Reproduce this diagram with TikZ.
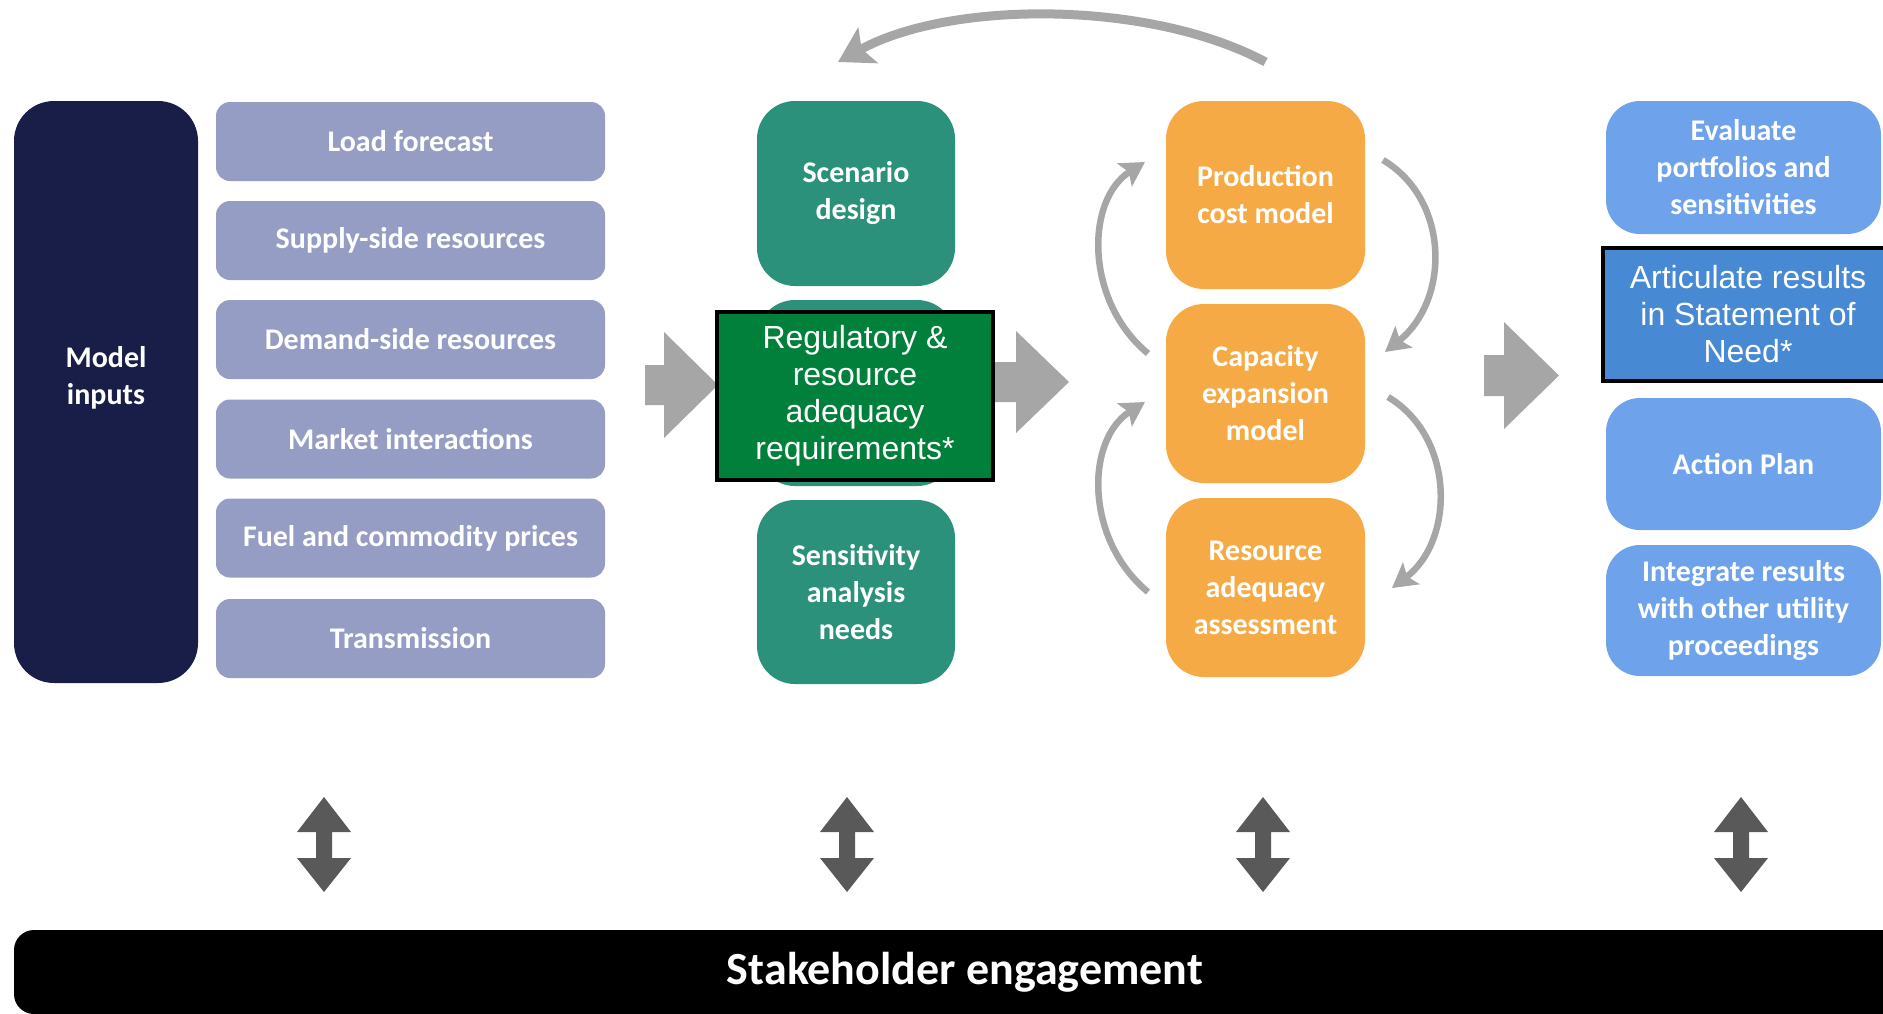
\documentclass[tikz,border=0pt]{standalone}
\usepackage{fontspec}
\newfontfamily\carlito{Carlito}
\newfontfamily\arialf{Liberation Sans}
\usetikzlibrary{arrows.meta}
\definecolor{navy}{RGB}{24,30,72}
\definecolor{lav}{RGB}{150,157,196}
\definecolor{tealg}{RGB}{43,145,122}
\definecolor{dgreen}{RGB}{0,128,58}
\definecolor{orng}{RGB}{246,170,70}
\definecolor{lblue}{RGB}{110,163,235}
\definecolor{mblue}{RGB}{72,137,212}
\definecolor{garr}{RGB}{166,166,166}
\definecolor{darr}{RGB}{89,89,89}
\begin{document}
\begin{tikzpicture}[x=1pt,y=-1pt,
  every node/.style={inner sep=0pt,outer sep=0pt},
  cbox/.style={rounded corners=#1,text=white,align=center,font=\carlito\bfseries\fontsize{30}{37}\selectfont},
  lavbox/.style={cbox=14pt,fill=lav,minimum width=389pt,minimum height=79pt},
  tealbox/.style={cbox=38pt,fill=tealg,minimum width=198pt},
  orbox/.style={cbox=38pt,fill=orng,minimum width=199pt},
  bluebox/.style={cbox=34pt,fill=lblue,minimum width=275pt},
  overbox/.style={draw=black,line width=4pt,text=white,align=center,font=\arialf\fontsize{32}{37}\selectfont},
  blockarr/.style={fill=garr},
  loopar/.style={draw=garr,line width=6.5pt,-{Stealth[length=24pt,width=27pt,inset=5pt]}},
  toparr/.style={draw=garr,line width=9pt,-{Stealth[length=34pt,width=40pt,inset=7pt]}},
  dblarr/.pic={\fill[darr] (0,-47.5) -- (27,-12.5) -- (8,-12.5) -- (8,13.5) -- (27,13.5) -- (0,47.5) -- (-27,13.5) -- (-8,13.5) -- (-8,-12.5) -- (-27,-12.5) -- cycle;}
]
\useasboundingbox (0,0) rectangle (1883,1013);
\clip (0,0) rectangle (1883,1013);
\fill[white] (0,0) rectangle (1883,1013);

% Model inputs
\node[cbox=40pt,fill=navy,minimum width=184pt,minimum height=582pt] (mi) at (106,392) {};
\node[cbox=0pt] (mitext) at (106,378) {Model\\inputs};

% input boxes
\node[lavbox] (load) at (410.5,141.5) {Load forecast};
\node[lavbox] (supply) at (410.5,240.5) {Supply-side resources};
\node[lavbox] (demand) at (410.5,339.5) {Demand-side resources};
\node[lavbox] (market) at (410.5,439) {Market interactions};
\node[lavbox] (fuel) at (410.5,538) {Fuel and commodity prices};
\node[lavbox] (trans) at (410.5,638.5) {Transmission};

% block arrow 1
\fill[blockarr] (645,365) -- (664,365) -- (664,332) -- (718,385) -- (664,438) -- (664,405) -- (645,405) -- cycle;

% teal column
\node[tealbox,minimum height=185pt] (scen) at (856,193.5) {Scenario\\design};
\node[tealbox,minimum height=186pt] (mid) at (856,393) {};
\node[tealbox,minimum height=184pt] (sens) at (856,592) {Sensitivity\\analysis\\needs};
\node[overbox,fill=dgreen,minimum width=276pt,minimum height=168pt] (reg) at (855,396) {Regulatory \&\\resource\\adequacy\\requirements*};

% block arrow 2
\fill[blockarr] (995,362) -- (1016,362) -- (1016,331) -- (1069,382) -- (1016,433) -- (1016,402) -- (995,402) -- cycle;

% orange column
\node[orbox,minimum height=188pt] (prod) at (1265.5,195) {Production\\cost model};
\node[orbox,minimum height=179pt] (cap) at (1265.5,393.5) {Capacity\\expansion\\model};
\node[orbox,minimum height=179pt] (res) at (1265.5,587.5) {Resource\\adequacy\\assessment};

% loop arrows
\draw[loopar] ([shift={(-18,-40)}]cap.west) .. controls +(-63,-52) and +(-60,38) .. ([shift={(-21,-33)}]prod.west);
\draw[loopar] ([shift={(-18,4.5)}]res.west) .. controls +(-63,-52) and +(-60,38) .. ([shift={(-21,8.5)}]cap.west);
\draw[loopar] ([shift={(18,-35)}]prod.east) .. controls +(67,40) and +(65,-52) .. ([shift={(20,-41.5)}]cap.east);
\draw[loopar] ([shift={(23,3.5)}]cap.east) .. controls +(67,40) and +(63,-48) .. ([shift={(27,0.5)}]res.east);

% top arc
\draw[toparr] ([shift={(0,-39)}]prod.north) .. controls +(-115,-62) and +(112,-62) .. ([shift={(-18,-39)}]scen.north);

% block arrow 3
\fill[blockarr] (1484,355) -- (1504,355) -- (1504,322) -- (1559,375.5) -- (1504,429) -- (1504,396) -- (1484,396) -- cycle;

% blue column
\node[bluebox,minimum height=133pt] (eval) at (1743.5,167.5) {Evaluate\\portfolios and\\sensitivities};
\node[overbox,fill=mblue,minimum width=290pt,minimum height=133pt] (artic) at (1748,314.5) {Articulate results\\in Statement of\\Need*};
\node[bluebox,minimum height=132pt] (action) at (1743.5,464) {Action Plan};
\node[bluebox,minimum height=131pt] (integ) at (1743.5,610.5) {Integrate results\\with other utility\\proceedings};

% double arrows
\pic at (324,844.5) {dblarr};
\pic at (847,844.5) {dblarr};
\pic at (1263,844.5) {dblarr};
\pic at (1741,844.5) {dblarr};

% stakeholder bar
\node[cbox=20pt,fill=black,minimum width=1902pt,minimum height=84pt,font=\carlito\bfseries\fontsize{46}{50}\selectfont] (stake) at (965,972) {Stakeholder engagement};
\end{tikzpicture}
\end{document}
